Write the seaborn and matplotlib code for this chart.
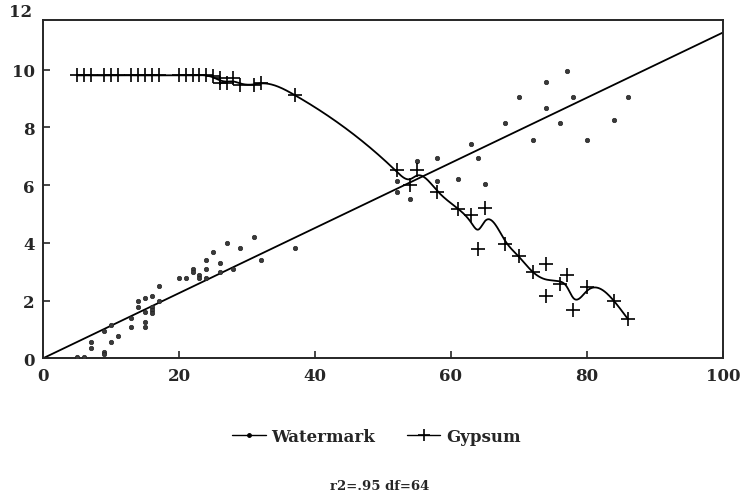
import numpy as np
import pandas as pd
import matplotlib
matplotlib.use("Agg")
import matplotlib.pyplot as plt
import seaborn as sns
from matplotlib.lines import Line2D

# Watermark readings (small dots) vs. x
wm_x = [5, 6, 7, 7, 9, 9, 9, 10, 10, 11, 13, 13, 14, 14, 15, 15, 15, 15,
        16, 16, 16, 16, 17, 17, 20, 21, 22, 22, 23, 23, 24, 24, 24, 25,
        26, 26, 27, 28, 29, 31, 32, 37,
        52, 52, 54, 55, 58, 58, 61, 63, 64, 65, 68, 70, 72, 74, 74, 76,
        77, 78, 80, 84, 86]
wm_y = [0.06, 0.06, 0.58, 0.37, 0.96, 0.23, 0.15, 1.16, 0.57, 0.79, 1.39,
        1.08, 1.98, 1.78, 2.09, 1.60, 1.27, 1.08, 2.17, 1.77, 1.69, 1.57,
        2.49, 1.98, 2.78, 2.78, 3.08, 2.99, 2.90, 2.79, 3.39, 3.10, 2.78,
        3.70, 3.30, 2.99, 4.00, 3.10, 3.82, 4.22, 3.39, 3.82,
        6.13, 5.76, 5.51, 6.83, 6.94, 6.13, 6.23, 7.44, 6.94, 6.05, 8.15,
        9.06, 7.55, 9.56, 8.66, 8.14, 9.96, 9.06, 7.55, 8.26, 9.06]

# Gypsum readings (plus markers) vs. x
gy_x = [5, 6, 7, 9, 10, 11, 13, 14, 15, 16, 17, 20, 21, 22, 23, 24, 25,
        26, 26, 27, 28, 29, 31, 32, 37,
        52, 54, 55, 58, 61, 63, 64, 65, 68, 70, 72, 74, 74, 76, 77, 78,
        80, 84, 86]
gy_y = [9.80, 9.81, 9.80, 9.80, 9.81, 9.80, 9.81, 9.80, 9.80, 9.81, 9.80,
        9.81, 9.80, 9.80, 9.81, 9.80, 9.78, 9.70, 9.53, 9.53, 9.70, 9.47,
        9.47, 9.55, 9.12,
        6.51, 6.02, 6.51, 5.76, 5.18, 4.98, 3.80, 5.20, 3.97, 3.56, 2.98,
        3.27, 2.17, 2.58, 2.89, 1.68, 2.46, 1.97, 1.36]

x_ticks = [0, 20, 40, 60, 80, 100]
y_ticks = [0, 2, 4, 6, 8, 10]
legend_labels = ["Watermark", "Gypsum"]
note = "r2=.95 df=64"

wm = pd.DataFrame({"x": wm_x, "y": wm_y})
gy = pd.DataFrame({"x": gy_x, "y": gy_y})

# least squares line through the origin for watermark
slope = (wm.x * wm.y).sum() / (wm.x ** 2).sum()
fit = pd.DataFrame({"x": [0, 100]})
fit["y"] = slope * fit.x


# smoothing spline (penalised least squares on a fine grid) for gypsum
def smooth(x, y, lam=0.25, h=0.1):
    x = np.asarray(x, float)
    y = np.asarray(y, float)
    g = np.arange(x.min(), x.max() + h / 2, h)
    m = len(g)
    B = np.zeros((len(x), m))
    for k, xv in enumerate(x):
        i = min(int(round((xv - g[0]) / h, 6)), m - 2)
        t = (xv - g[i]) / h
        B[k, i] = 1 - t
        B[k, i + 1] = t
    D = np.zeros((m - 2, m))
    for i in range(m - 2):
        D[i, i:i + 3] = [1, -2, 1]
    D /= h ** 2
    A = B.T @ B + lam * h * D.T @ D
    f = np.linalg.solve(A, B.T @ y)
    return pd.DataFrame({"x": g, "y": f})


curve = smooth(gy.x, gy.y)

sns.set_style("ticks")
plt.rcParams["font.family"] = ["DejaVu Serif"]
plt.rcParams["font.weight"] = "bold"

fig = plt.figure(figsize=(7.4, 5.02), dpi=100)
ax = fig.add_axes([43 / 740, 1 - 359.3 / 502, 680 / 740, 338.6 / 502])

sns.lineplot(data=fit, x="x", y="y", ax=ax, color="black", lw=1.3)
sns.lineplot(data=curve, x="x", y="y", ax=ax, color="black", lw=1.3,
             estimator=None, sort=False)
sns.scatterplot(data=wm, x="x", y="y", ax=ax, color="#3a3a3a", s=10,
                edgecolor="#222222", linewidth=0.5, zorder=3)
sns.scatterplot(data=gy, x="x", y="y", ax=ax, marker="+", color="black",
                s=110, linewidth=1.2, zorder=3)

ax.set_xlim(0, 100)
ax.set_ylim(0, (359.3 - 20.7) / 28.86)
ax.set_xticks(x_ticks)
ax.set_yticks(y_ticks)
ax.text(-1.6, 12, "12", ha="right", va="center", fontsize=12,
        fontweight="bold", clip_on=False)
ax.tick_params(direction="in", length=5, width=1.2, labelsize=12, pad=6)
for s in ax.spines.values():
    s.set_linewidth(1.4)
    s.set_visible(True)
ax.set_xlabel("")
ax.set_ylabel("")

handles = [
    Line2D([], [], color="black", lw=1, marker="o", markersize=2.5),
    Line2D([], [], color="black", lw=1, marker="+", markersize=9, mew=1.2),
]
fig.legend(handles, legend_labels, loc="center", bbox_to_anchor=(0.509, 0.128),
           ncol=2, frameon=False, handlelength=2.0, handletextpad=0.35,
           columnspacing=1.9, prop={"size": 12, "weight": "bold"})
fig.text(0.513, 0.03, note, ha="center", va="center", fontsize=9.5,
         fontweight="bold")

fig.savefig("out.png", dpi=100)
